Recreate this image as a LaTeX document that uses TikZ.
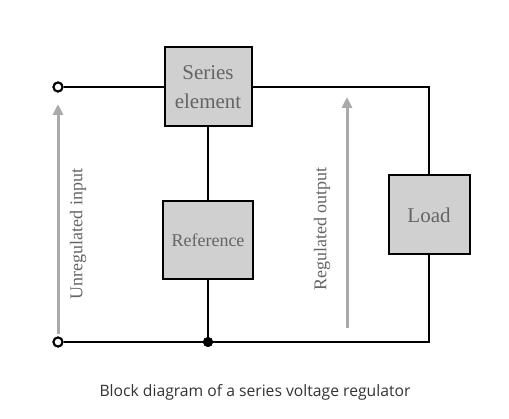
\documentclass[tikz,border=0pt]{standalone}
\usepackage{fontspec}
\setmainfont{Liberation Serif}
\newfontfamily\capfont{Open Sans}
\usetikzlibrary{arrows.meta, positioning}
\definecolor{blockfill}{RGB}{208,208,208}
\definecolor{blocktext}{RGB}{100,100,100}
\definecolor{arrowgray}{RGB}{170,170,170}
\definecolor{captext}{RGB}{51,51,51}
\tikzset{
  % Block (series element, reference, load)
  block/.style={
    rectangle, draw=black, line width=2pt, fill=blockfill,
    text=blocktext, align=center, inner sep=2pt
  },
  % Circuit wire
  wire/.style={
    draw=black, line width=2pt
  },
  % Open terminal
  terminal/.style={
    circle, draw=black, fill=white, line width=2pt,
    minimum size=9pt, inner sep=0pt
  },
  % Junction dot
  junction/.style={
    circle, fill=black, minimum size=10pt, inner sep=0pt
  },
  % Voltage arrow
  varr/.style={
    -{Triangle[length=11pt, width=10pt]}, color=arrowgray, line width=3pt
  },
  % Voltage label
  vlabel/.style={
    rotate=90, text=blocktext, font=\fontsize{18}{20}\selectfont
  },
}

\begin{document}
\begin{tikzpicture}[x=1pt, y=-1pt]

\useasboundingbox (0,0) rectangle (509,419);

%% -- BLOCKS --------------------------------------------------------------

\node[block, minimum width=87pt, minimum height=79pt,
      font=\fontsize{21}{29}\selectfont] (series) at (208,87)
  {Series\\element};

\node[block, minimum width=90pt, minimum height=78pt,
      font=\fontsize{18}{20}\selectfont] (ref) at (208,240)
  {Reference};

\node[block, minimum width=81pt, minimum height=79pt,
      font=\fontsize{21}{24}\selectfont] (load) at (429,215)
  {Load};

%% -- TERMINALS -----------------------------------------------------------

\node[terminal] (tin) at (58,87) {};
\node[terminal] (bin) at (58,342) {};
\node[junction] (junc) at (208,342) {};

%% -- WIRES ---------------------------------------------------------------

\draw[wire] (tin)         -- (series.west);
\draw[wire] (series.east) -| (load.north);
\draw[wire] (series)      -- (ref);
\draw[wire] (ref)         -- (junc);
\draw[wire] (load.south)  |- (bin);
\node[junction] at (junc) {};
\node[terminal] at (tin) {};
\node[terminal] at (bin) {};

%% -- VOLTAGE ARROWS ------------------------------------------------------

\coordinate (uin-s) at (58,334);
\coordinate (uin-e) at (58,104);
\coordinate (uout-s) at (347,328);
\coordinate (uout-e) at (347,97);

\draw[varr] (uin-s)  -- (uin-e);
\draw[varr] (uout-s) -- (uout-e);

\node[vlabel] (uinlabel)  at (78,234)  {Unregulated input};
\node[vlabel] (uoutlabel) at (322,229) {Regulated output};

%% -- CAPTION -------------------------------------------------------------

\node[font=\capfont\fontsize{15.7}{18}\selectfont, text=captext] (caption)
  at (255,392) {Block diagram of a series voltage regulator};

\end{tikzpicture}
\end{document}
